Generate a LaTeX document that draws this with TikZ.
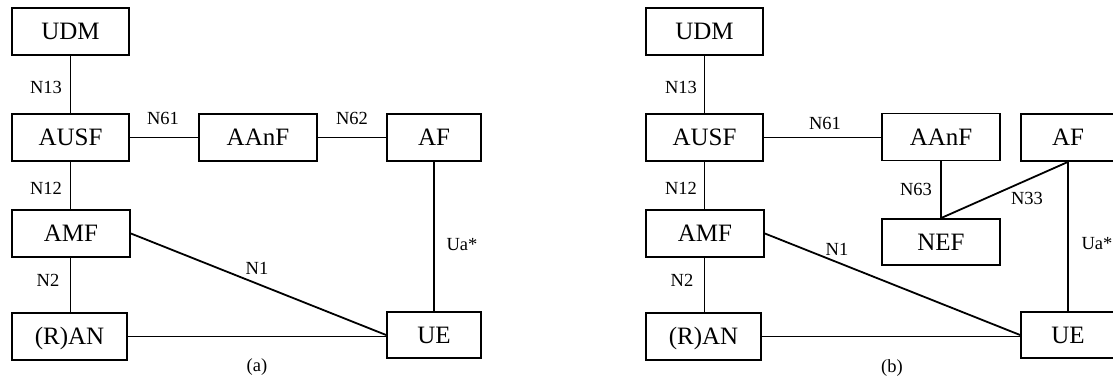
\documentclass[tikz,border=0pt]{standalone}
\usepackage{fontspec}
\setmainfont{Liberation Serif}
\begin{document}
\begin{tikzpicture}[x=1pt,y=-1pt,
  nf/.style={draw, line width=1.8pt, inner sep=0pt, minimum height=47pt,
    font=\fontsize{25}{30}\selectfont, text height=16.5pt, text depth=0pt},
  lbl/.style={inner sep=0pt, font=\fontsize{18.5}{22}\selectfont},
  conn/.style={line width=1.8pt}]
\useasboundingbox (0,0) rectangle (1113,380);
\clip (0,0) rectangle (1113,380);
% ---------------- (a) ----------------
\node[nf, minimum width=117pt] (udmA)  at (70.5,31.5) {UDM};
\node[nf, minimum width=117pt] (ausfA) at (70.5,137.5) {AUSF};
\node[nf, minimum width=118pt] (aanfA) at (258,137.5) {AAnF};
\node[nf, minimum width=94pt]  (afA)   at (434,137.5) {AF};
\node[nf, minimum width=118pt] (amfA)  at (71,233.5) {AMF};
\node[nf, minimum width=115pt] (ranA)  at (69.5,336.5) {(R)AN};
\node[nf, minimum width=94pt, minimum height=46pt] (ueA) at (434,335) {UE};
\draw[conn] (udmA) -- (ausfA);
\draw[conn] (ausfA) -- (aanfA);
\draw[conn] (aanfA) -- (afA);
\draw[conn] (afA) -- (ueA);
\draw[conn] (ausfA.south) -- (ausfA.south |- amfA.north);
\draw[conn] (ausfA.south |- amfA.south) -- (ausfA.south |- ranA.north);
\draw[conn] (amfA.east) -- (ueA.west);
\draw[conn] (ranA.east) -- (ranA.east -| ueA.west);
\node[lbl] (n13A) at (46,87) {N13};
\node[lbl] (n61A) at (163,118) {N61};
\node[lbl] (n62A) at (352,118) {N62};
\node[lbl] (n12A) at (46,188) {N12};
\node[lbl] (n2A)  at (48,280) {N2};
\node[lbl] (n1A)  at (257,268) {N1};
\node[lbl] (uaA)  at (462,245) {Ua*};
\node[lbl] (capA) at (257,367) {(a)};
% ---------------- (b) ----------------
\node[nf, minimum width=117pt] (udmB)  at (704.5,31.5) {UDM};
\node[nf, minimum width=117pt] (ausfB) at (704.5,137.5) {AUSF};
\node[nf, minimum width=118pt] (aanfB) at (941,137) {AAnF};
\node[nf, minimum width=94pt]  (afB)   at (1068,137.5) {AF};
\node[nf, minimum width=118pt] (amfB)  at (705,233.5) {AMF};
\node[nf, minimum width=115pt] (ranB)  at (703.5,336.5) {(R)AN};
\node[nf, minimum width=94pt, minimum height=46pt] (ueB) at (1068,335) {UE};
\node[nf, minimum width=118pt, minimum height=46pt] (nefB) at (941,242) {NEF};
\draw[conn] (udmB) -- (ausfB);
\draw[conn] (ausfB.east) -- (ausfB.east -| aanfB.west);
\draw[conn] (aanfB) -- (nefB);
\draw[conn] (afB.south) -- (nefB.north);
\draw[conn] (afB) -- (ueB);
\draw[conn] (ausfB.south) -- (ausfB.south |- amfB.north);
\draw[conn] (ausfB.south |- amfB.south) -- (ausfB.south |- ranB.north);
\draw[conn] (amfB.east) -- (ueB.west);
\draw[conn] (ranB.east) -- (ranB.east -| ueB.west);
\node[lbl] (n13B) at (681,87) {N13};
\node[lbl] (n61B) at (825,123) {N61};
\node[lbl] (n12B) at (681,188) {N12};
\node[lbl] (n63B) at (916,189) {N63};
\node[lbl] (n33B) at (1027,198) {N33};
\node[lbl] (n2B)  at (682,280) {N2};
\node[lbl] (n1B)  at (837,249) {N1};
\node[lbl] (uaB)  at (1097,244) {Ua*};
\node[lbl] (capB) at (892,368) {(b)};
\end{tikzpicture}
\end{document}
